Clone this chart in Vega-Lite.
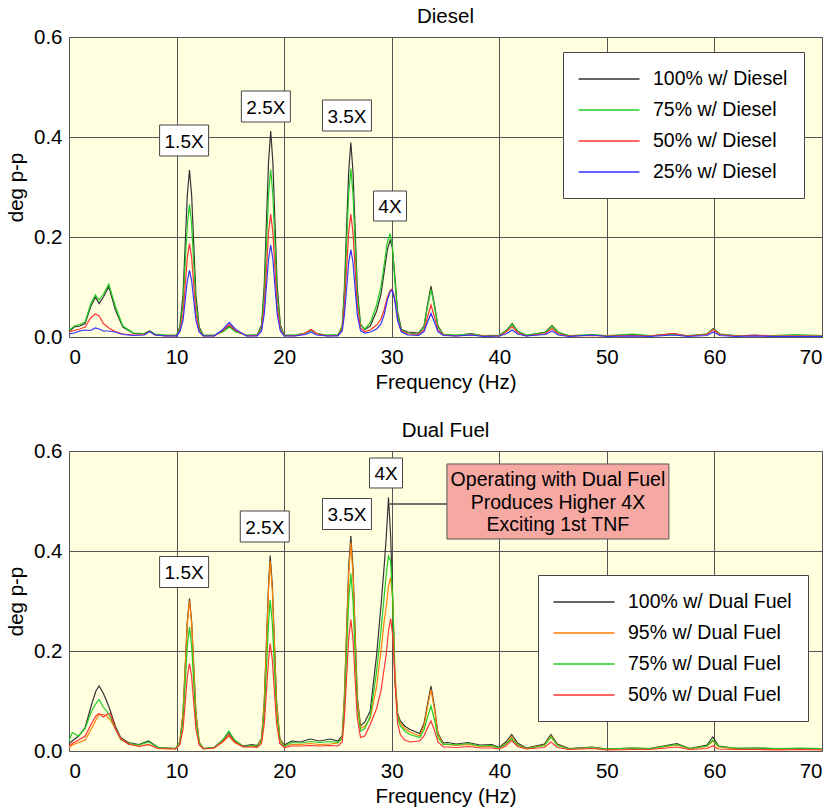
{
  "$schema": "https://vega.github.io/schema/vega-lite/v6.json",
  "background": "white",
  "padding": {"left": 6, "top": 6, "right": 5, "bottom": 3},
  "datasets": {
    "top": [
      {"f":0,"100% w/ Diesel":0.011,"75% w/ Diesel":0.013,"50% w/ Diesel":0.010,"25% w/ Diesel":0.006},
      {"f":0.5,"100% w/ Diesel":0.020,"75% w/ Diesel":0.022,"50% w/ Diesel":0.013,"25% w/ Diesel":0.008},
      {"f":1,"100% w/ Diesel":0.022,"75% w/ Diesel":0.025,"50% w/ Diesel":0.016,"25% w/ Diesel":0.012},
      {"f":1.5,"100% w/ Diesel":0.027,"75% w/ Diesel":0.030,"50% w/ Diesel":0.020,"25% w/ Diesel":0.014},
      {"f":2,"100% w/ Diesel":0.060,"75% w/ Diesel":0.065,"50% w/ Diesel":0.038,"25% w/ Diesel":0.013},
      {"f":2.45,"100% w/ Diesel":0.080,"75% w/ Diesel":0.084,"50% w/ Diesel":0.046,"25% w/ Diesel":0.018},
      {"f":2.8,"100% w/ Diesel":0.067,"75% w/ Diesel":0.074,"50% w/ Diesel":0.042,"25% w/ Diesel":0.016},
      {"f":3.2,"100% w/ Diesel":0.080,"75% w/ Diesel":0.086,"50% w/ Diesel":0.027,"25% w/ Diesel":0.012},
      {"f":3.7,"100% w/ Diesel":0.101,"75% w/ Diesel":0.106,"50% w/ Diesel":0.018,"25% w/ Diesel":0.012},
      {"f":4.3,"100% w/ Diesel":0.055,"75% w/ Diesel":0.062,"50% w/ Diesel":0.011,"25% w/ Diesel":0.010},
      {"f":5,"100% w/ Diesel":0.020,"75% w/ Diesel":0.022,"50% w/ Diesel":0.006,"25% w/ Diesel":0.005},
      {"f":6,"100% w/ Diesel":0.007,"75% w/ Diesel":0.008,"50% w/ Diesel":0.004,"25% w/ Diesel":0.003},
      {"f":7,"100% w/ Diesel":0.007,"75% w/ Diesel":0.007,"50% w/ Diesel":0.005,"25% w/ Diesel":0.004},
      {"f":7.5,"100% w/ Diesel":0.012,"75% w/ Diesel":0.012,"50% w/ Diesel":0.011,"25% w/ Diesel":0.011},
      {"f":8,"100% w/ Diesel":0.005,"75% w/ Diesel":0.006,"50% w/ Diesel":0.004,"25% w/ Diesel":0.004},
      {"f":9,"100% w/ Diesel":0.003,"75% w/ Diesel":0.004,"50% w/ Diesel":0.002,"25% w/ Diesel":0.002},
      {"f":10,"100% w/ Diesel":0.003,"75% w/ Diesel":0.004,"50% w/ Diesel":0.002,"25% w/ Diesel":0.002},
      {"f":10.3,"100% w/ Diesel":0.020,"75% w/ Diesel":0.016,"50% w/ Diesel":0.012,"25% w/ Diesel":0.010},
      {"f":10.6,"100% w/ Diesel":0.084,"75% w/ Diesel":0.066,"50% w/ Diesel":0.047,"25% w/ Diesel":0.033},
      {"f":10.8,"100% w/ Diesel":0.184,"75% w/ Diesel":0.146,"50% w/ Diesel":0.103,"25% w/ Diesel":0.073},
      {"f":11.0,"100% w/ Diesel":0.284,"75% w/ Diesel":0.225,"50% w/ Diesel":0.159,"25% w/ Diesel":0.113},
      {"f":11.2,"100% w/ Diesel":0.334,"75% w/ Diesel":0.265,"50% w/ Diesel":0.187,"25% w/ Diesel":0.133},
      {"f":11.4,"100% w/ Diesel":0.284,"75% w/ Diesel":0.225,"50% w/ Diesel":0.159,"25% w/ Diesel":0.113},
      {"f":11.6,"100% w/ Diesel":0.184,"75% w/ Diesel":0.146,"50% w/ Diesel":0.103,"25% w/ Diesel":0.073},
      {"f":11.8,"100% w/ Diesel":0.084,"75% w/ Diesel":0.066,"50% w/ Diesel":0.047,"25% w/ Diesel":0.033},
      {"f":12.1,"100% w/ Diesel":0.020,"75% w/ Diesel":0.016,"50% w/ Diesel":0.012,"25% w/ Diesel":0.010},
      {"f":12.5,"100% w/ Diesel":0.003,"75% w/ Diesel":0.004,"50% w/ Diesel":0.002,"25% w/ Diesel":0.002},
      {"f":13.5,"100% w/ Diesel":0.003,"75% w/ Diesel":0.004,"50% w/ Diesel":0.002,"25% w/ Diesel":0.002},
      {"f":14.3,"100% w/ Diesel":0.012,"75% w/ Diesel":0.010,"50% w/ Diesel":0.013,"25% w/ Diesel":0.015},
      {"f":14.9,"100% w/ Diesel":0.022,"75% w/ Diesel":0.020,"50% w/ Diesel":0.025,"25% w/ Diesel":0.029},
      {"f":15.5,"100% w/ Diesel":0.012,"75% w/ Diesel":0.010,"50% w/ Diesel":0.013,"25% w/ Diesel":0.015},
      {"f":16.5,"100% w/ Diesel":0.003,"75% w/ Diesel":0.004,"50% w/ Diesel":0.002,"25% w/ Diesel":0.002},
      {"f":17.5,"100% w/ Diesel":0.004,"75% w/ Diesel":0.004,"50% w/ Diesel":0.003,"25% w/ Diesel":0.002},
      {"f":17.9,"100% w/ Diesel":0.024,"75% w/ Diesel":0.020,"50% w/ Diesel":0.015,"25% w/ Diesel":0.012},
      {"f":18.15,"100% w/ Diesel":0.103,"75% w/ Diesel":0.084,"50% w/ Diesel":0.062,"25% w/ Diesel":0.046},
      {"f":18.35,"100% w/ Diesel":0.227,"75% w/ Diesel":0.184,"50% w/ Diesel":0.135,"25% w/ Diesel":0.101},
      {"f":18.55,"100% w/ Diesel":0.350,"75% w/ Diesel":0.285,"50% w/ Diesel":0.209,"25% w/ Diesel":0.156},
      {"f":18.75,"100% w/ Diesel":0.412,"75% w/ Diesel":0.335,"50% w/ Diesel":0.246,"25% w/ Diesel":0.184},
      {"f":18.95,"100% w/ Diesel":0.350,"75% w/ Diesel":0.285,"50% w/ Diesel":0.209,"25% w/ Diesel":0.156},
      {"f":19.15,"100% w/ Diesel":0.227,"75% w/ Diesel":0.184,"50% w/ Diesel":0.135,"25% w/ Diesel":0.101},
      {"f":19.35,"100% w/ Diesel":0.103,"75% w/ Diesel":0.084,"50% w/ Diesel":0.062,"25% w/ Diesel":0.046},
      {"f":19.65,"100% w/ Diesel":0.024,"75% w/ Diesel":0.020,"50% w/ Diesel":0.015,"25% w/ Diesel":0.012},
      {"f":20,"100% w/ Diesel":0.004,"75% w/ Diesel":0.004,"50% w/ Diesel":0.003,"25% w/ Diesel":0.002},
      {"f":21,"100% w/ Diesel":0.003,"75% w/ Diesel":0.004,"50% w/ Diesel":0.002,"25% w/ Diesel":0.002},
      {"f":22,"100% w/ Diesel":0.008,"75% w/ Diesel":0.008,"50% w/ Diesel":0.008,"25% w/ Diesel":0.005},
      {"f":22.5,"100% w/ Diesel":0.015,"75% w/ Diesel":0.013,"50% w/ Diesel":0.015,"25% w/ Diesel":0.010},
      {"f":23,"100% w/ Diesel":0.007,"75% w/ Diesel":0.007,"50% w/ Diesel":0.007,"25% w/ Diesel":0.004},
      {"f":24,"100% w/ Diesel":0.003,"75% w/ Diesel":0.004,"50% w/ Diesel":0.002,"25% w/ Diesel":0.002},
      {"f":25,"100% w/ Diesel":0.004,"75% w/ Diesel":0.005,"50% w/ Diesel":0.003,"25% w/ Diesel":0.002},
      {"f":25.4,"100% w/ Diesel":0.022,"75% w/ Diesel":0.020,"50% w/ Diesel":0.016,"25% w/ Diesel":0.012},
      {"f":25.6,"100% w/ Diesel":0.097,"75% w/ Diesel":0.084,"50% w/ Diesel":0.062,"25% w/ Diesel":0.044},
      {"f":25.8,"100% w/ Diesel":0.214,"75% w/ Diesel":0.185,"50% w/ Diesel":0.135,"25% w/ Diesel":0.096},
      {"f":26.0,"100% w/ Diesel":0.331,"75% w/ Diesel":0.286,"50% w/ Diesel":0.209,"25% w/ Diesel":0.149},
      {"f":26.2,"100% w/ Diesel":0.389,"75% w/ Diesel":0.337,"50% w/ Diesel":0.246,"25% w/ Diesel":0.175},
      {"f":26.4,"100% w/ Diesel":0.331,"75% w/ Diesel":0.286,"50% w/ Diesel":0.209,"25% w/ Diesel":0.149},
      {"f":26.6,"100% w/ Diesel":0.214,"75% w/ Diesel":0.185,"50% w/ Diesel":0.135,"25% w/ Diesel":0.096},
      {"f":26.8,"100% w/ Diesel":0.097,"75% w/ Diesel":0.084,"50% w/ Diesel":0.062,"25% w/ Diesel":0.044},
      {"f":27.1,"100% w/ Diesel":0.025,"75% w/ Diesel":0.024,"50% w/ Diesel":0.018,"25% w/ Diesel":0.013},
      {"f":27.5,"100% w/ Diesel":0.015,"75% w/ Diesel":0.016,"50% w/ Diesel":0.011,"25% w/ Diesel":0.008},
      {"f":28.0,"100% w/ Diesel":0.022,"75% w/ Diesel":0.028,"50% w/ Diesel":0.014,"25% w/ Diesel":0.010},
      {"f":28.6,"100% w/ Diesel":0.052,"75% w/ Diesel":0.064,"50% w/ Diesel":0.024,"25% w/ Diesel":0.016},
      {"f":29.0,"100% w/ Diesel":0.085,"75% w/ Diesel":0.100,"50% w/ Diesel":0.036,"25% w/ Diesel":0.026},
      {"f":29.3,"100% w/ Diesel":0.130,"75% w/ Diesel":0.145,"50% w/ Diesel":0.055,"25% w/ Diesel":0.045},
      {"f":29.6,"100% w/ Diesel":0.175,"75% w/ Diesel":0.190,"50% w/ Diesel":0.080,"25% w/ Diesel":0.075},
      {"f":29.85,"100% w/ Diesel":0.194,"75% w/ Diesel":0.207,"50% w/ Diesel":0.093,"25% w/ Diesel":0.090},
      {"f":30.05,"100% w/ Diesel":0.180,"75% w/ Diesel":0.185,"50% w/ Diesel":0.096,"25% w/ Diesel":0.094},
      {"f":30.3,"100% w/ Diesel":0.120,"75% w/ Diesel":0.110,"50% w/ Diesel":0.075,"25% w/ Diesel":0.072},
      {"f":30.55,"100% w/ Diesel":0.050,"75% w/ Diesel":0.045,"50% w/ Diesel":0.035,"25% w/ Diesel":0.033},
      {"f":30.9,"100% w/ Diesel":0.015,"75% w/ Diesel":0.013,"50% w/ Diesel":0.012,"25% w/ Diesel":0.010},
      {"f":31.5,"100% w/ Diesel":0.010,"75% w/ Diesel":0.008,"50% w/ Diesel":0.006,"25% w/ Diesel":0.004},
      {"f":32.5,"100% w/ Diesel":0.008,"75% w/ Diesel":0.006,"50% w/ Diesel":0.005,"25% w/ Diesel":0.003},
      {"f":33.0,"100% w/ Diesel":0.022,"75% w/ Diesel":0.020,"50% w/ Diesel":0.014,"25% w/ Diesel":0.011},
      {"f":33.3,"100% w/ Diesel":0.061,"75% w/ Diesel":0.057,"50% w/ Diesel":0.038,"25% w/ Diesel":0.028},
      {"f":33.65,"100% w/ Diesel":0.102,"75% w/ Diesel":0.095,"50% w/ Diesel":0.064,"25% w/ Diesel":0.047},
      {"f":34.0,"100% w/ Diesel":0.061,"75% w/ Diesel":0.057,"50% w/ Diesel":0.038,"25% w/ Diesel":0.028},
      {"f":34.3,"100% w/ Diesel":0.022,"75% w/ Diesel":0.020,"50% w/ Diesel":0.014,"25% w/ Diesel":0.011},
      {"f":34.8,"100% w/ Diesel":0.005,"75% w/ Diesel":0.005,"50% w/ Diesel":0.004,"25% w/ Diesel":0.003},
      {"f":36,"100% w/ Diesel":0.003,"75% w/ Diesel":0.004,"50% w/ Diesel":0.002,"25% w/ Diesel":0.002},
      {"f":37.4,"100% w/ Diesel":0.007,"75% w/ Diesel":0.006,"50% w/ Diesel":0.004,"25% w/ Diesel":0.004},
      {"f":38.5,"100% w/ Diesel":0.002,"75% w/ Diesel":0.003,"50% w/ Diesel":0.002,"25% w/ Diesel":0.001},
      {"f":40,"100% w/ Diesel":0.003,"75% w/ Diesel":0.004,"50% w/ Diesel":0.002,"25% w/ Diesel":0.002},
      {"f":40.7,"100% w/ Diesel":0.014,"75% w/ Diesel":0.013,"50% w/ Diesel":0.011,"25% w/ Diesel":0.007},
      {"f":41.2,"100% w/ Diesel":0.027,"75% w/ Diesel":0.025,"50% w/ Diesel":0.021,"25% w/ Diesel":0.014},
      {"f":41.7,"100% w/ Diesel":0.012,"75% w/ Diesel":0.012,"50% w/ Diesel":0.009,"25% w/ Diesel":0.006},
      {"f":42.5,"100% w/ Diesel":0.003,"75% w/ Diesel":0.004,"50% w/ Diesel":0.002,"25% w/ Diesel":0.002},
      {"f":44.3,"100% w/ Diesel":0.010,"75% w/ Diesel":0.009,"50% w/ Diesel":0.007,"25% w/ Diesel":0.005},
      {"f":44.9,"100% w/ Diesel":0.023,"75% w/ Diesel":0.021,"50% w/ Diesel":0.017,"25% w/ Diesel":0.012},
      {"f":45.5,"100% w/ Diesel":0.009,"75% w/ Diesel":0.009,"50% w/ Diesel":0.006,"25% w/ Diesel":0.004},
      {"f":46.5,"100% w/ Diesel":0.002,"75% w/ Diesel":0.003,"50% w/ Diesel":0.002,"25% w/ Diesel":0.001},
      {"f":48.6,"100% w/ Diesel":0.004,"75% w/ Diesel":0.005,"50% w/ Diesel":0.003,"25% w/ Diesel":0.004},
      {"f":50,"100% w/ Diesel":0.002,"75% w/ Diesel":0.003,"50% w/ Diesel":0.002,"25% w/ Diesel":0.001},
      {"f":52.4,"100% w/ Diesel":0.005,"75% w/ Diesel":0.006,"50% w/ Diesel":0.003,"25% w/ Diesel":0.002},
      {"f":54,"100% w/ Diesel":0.002,"75% w/ Diesel":0.003,"50% w/ Diesel":0.002,"25% w/ Diesel":0.001},
      {"f":56.2,"100% w/ Diesel":0.007,"75% w/ Diesel":0.005,"50% w/ Diesel":0.007,"25% w/ Diesel":0.004},
      {"f":57.5,"100% w/ Diesel":0.002,"75% w/ Diesel":0.003,"50% w/ Diesel":0.002,"25% w/ Diesel":0.001},
      {"f":59.3,"100% w/ Diesel":0.006,"75% w/ Diesel":0.006,"50% w/ Diesel":0.005,"25% w/ Diesel":0.003},
      {"f":59.9,"100% w/ Diesel":0.017,"75% w/ Diesel":0.016,"50% w/ Diesel":0.015,"25% w/ Diesel":0.010},
      {"f":60.5,"100% w/ Diesel":0.006,"75% w/ Diesel":0.006,"50% w/ Diesel":0.005,"25% w/ Diesel":0.003},
      {"f":62,"100% w/ Diesel":0.002,"75% w/ Diesel":0.003,"50% w/ Diesel":0.002,"25% w/ Diesel":0.001},
      {"f":63.7,"100% w/ Diesel":0.004,"75% w/ Diesel":0.003,"50% w/ Diesel":0.003,"25% w/ Diesel":0.002},
      {"f":65.5,"100% w/ Diesel":0.002,"75% w/ Diesel":0.003,"50% w/ Diesel":0.002,"25% w/ Diesel":0.001},
      {"f":67.5,"100% w/ Diesel":0.002,"75% w/ Diesel":0.005,"50% w/ Diesel":0.002,"25% w/ Diesel":0.001},
      {"f":70,"100% w/ Diesel":0.002,"75% w/ Diesel":0.003,"50% w/ Diesel":0.002,"25% w/ Diesel":0.001}
    ],
    "bot": [
      {"f":0,"100% w/ Dual Fuel":0.015,"95% w/ Dual Fuel":0.007,"75% w/ Dual Fuel":0.020,"50% w/ Dual Fuel":0.010},
      {"f":0.3,"100% w/ Dual Fuel":0.020,"95% w/ Dual Fuel":0.012,"75% w/ Dual Fuel":0.037,"50% w/ Dual Fuel":0.015},
      {"f":0.9,"100% w/ Dual Fuel":0.030,"95% w/ Dual Fuel":0.017,"75% w/ Dual Fuel":0.030,"50% w/ Dual Fuel":0.022},
      {"f":1.5,"100% w/ Dual Fuel":0.047,"95% w/ Dual Fuel":0.022,"75% w/ Dual Fuel":0.045,"50% w/ Dual Fuel":0.030},
      {"f":2.1,"100% w/ Dual Fuel":0.093,"95% w/ Dual Fuel":0.045,"75% w/ Dual Fuel":0.080,"50% w/ Dual Fuel":0.055},
      {"f":2.5,"100% w/ Dual Fuel":0.120,"95% w/ Dual Fuel":0.062,"75% w/ Dual Fuel":0.095,"50% w/ Dual Fuel":0.070},
      {"f":2.8,"100% w/ Dual Fuel":0.130,"95% w/ Dual Fuel":0.073,"75% w/ Dual Fuel":0.103,"50% w/ Dual Fuel":0.075},
      {"f":3.2,"100% w/ Dual Fuel":0.115,"95% w/ Dual Fuel":0.073,"75% w/ Dual Fuel":0.087,"50% w/ Dual Fuel":0.068},
      {"f":3.5,"100% w/ Dual Fuel":0.100,"95% w/ Dual Fuel":0.070,"75% w/ Dual Fuel":0.080,"50% w/ Dual Fuel":0.073},
      {"f":3.85,"100% w/ Dual Fuel":0.080,"95% w/ Dual Fuel":0.062,"75% w/ Dual Fuel":0.068,"50% w/ Dual Fuel":0.075},
      {"f":4.3,"100% w/ Dual Fuel":0.050,"95% w/ Dual Fuel":0.045,"75% w/ Dual Fuel":0.045,"50% w/ Dual Fuel":0.045},
      {"f":4.8,"100% w/ Dual Fuel":0.027,"95% w/ Dual Fuel":0.025,"75% w/ Dual Fuel":0.023,"50% w/ Dual Fuel":0.025},
      {"f":5.5,"100% w/ Dual Fuel":0.017,"95% w/ Dual Fuel":0.014,"75% w/ Dual Fuel":0.015,"50% w/ Dual Fuel":0.014},
      {"f":6.5,"100% w/ Dual Fuel":0.013,"95% w/ Dual Fuel":0.010,"75% w/ Dual Fuel":0.012,"50% w/ Dual Fuel":0.009},
      {"f":7.4,"100% w/ Dual Fuel":0.020,"95% w/ Dual Fuel":0.013,"75% w/ Dual Fuel":0.018,"50% w/ Dual Fuel":0.013},
      {"f":8.3,"100% w/ Dual Fuel":0.007,"95% w/ Dual Fuel":0.005,"75% w/ Dual Fuel":0.007,"50% w/ Dual Fuel":0.005},
      {"f":9.9,"100% w/ Dual Fuel":0.005,"95% w/ Dual Fuel":0.004,"75% w/ Dual Fuel":0.005,"50% w/ Dual Fuel":0.004},
      {"f":10.3,"100% w/ Dual Fuel":0.018,"95% w/ Dual Fuel":0.018,"75% w/ Dual Fuel":0.016,"50% w/ Dual Fuel":0.012},
      {"f":10.6,"100% w/ Dual Fuel":0.076,"95% w/ Dual Fuel":0.075,"75% w/ Dual Fuel":0.062,"50% w/ Dual Fuel":0.044},
      {"f":10.8,"100% w/ Dual Fuel":0.168,"95% w/ Dual Fuel":0.165,"75% w/ Dual Fuel":0.136,"50% w/ Dual Fuel":0.096},
      {"f":11.0,"100% w/ Dual Fuel":0.259,"95% w/ Dual Fuel":0.255,"75% w/ Dual Fuel":0.211,"50% w/ Dual Fuel":0.149},
      {"f":11.2,"100% w/ Dual Fuel":0.305,"95% w/ Dual Fuel":0.300,"75% w/ Dual Fuel":0.248,"50% w/ Dual Fuel":0.175},
      {"f":11.4,"100% w/ Dual Fuel":0.259,"95% w/ Dual Fuel":0.255,"75% w/ Dual Fuel":0.211,"50% w/ Dual Fuel":0.149},
      {"f":11.6,"100% w/ Dual Fuel":0.168,"95% w/ Dual Fuel":0.165,"75% w/ Dual Fuel":0.136,"50% w/ Dual Fuel":0.096},
      {"f":11.8,"100% w/ Dual Fuel":0.076,"95% w/ Dual Fuel":0.075,"75% w/ Dual Fuel":0.062,"50% w/ Dual Fuel":0.044},
      {"f":12.1,"100% w/ Dual Fuel":0.018,"95% w/ Dual Fuel":0.018,"75% w/ Dual Fuel":0.016,"50% w/ Dual Fuel":0.012},
      {"f":12.5,"100% w/ Dual Fuel":0.005,"95% w/ Dual Fuel":0.005,"75% w/ Dual Fuel":0.005,"50% w/ Dual Fuel":0.004},
      {"f":13.5,"100% w/ Dual Fuel":0.007,"95% w/ Dual Fuel":0.006,"75% w/ Dual Fuel":0.007,"50% w/ Dual Fuel":0.006},
      {"f":14.3,"100% w/ Dual Fuel":0.022,"95% w/ Dual Fuel":0.018,"75% w/ Dual Fuel":0.022,"50% w/ Dual Fuel":0.019},
      {"f":14.85,"100% w/ Dual Fuel":0.037,"95% w/ Dual Fuel":0.030,"75% w/ Dual Fuel":0.040,"50% w/ Dual Fuel":0.032},
      {"f":15.4,"100% w/ Dual Fuel":0.020,"95% w/ Dual Fuel":0.017,"75% w/ Dual Fuel":0.022,"50% w/ Dual Fuel":0.018},
      {"f":16.2,"100% w/ Dual Fuel":0.010,"95% w/ Dual Fuel":0.008,"75% w/ Dual Fuel":0.009,"50% w/ Dual Fuel":0.008},
      {"f":17.0,"100% w/ Dual Fuel":0.013,"95% w/ Dual Fuel":0.010,"75% w/ Dual Fuel":0.011,"50% w/ Dual Fuel":0.008},
      {"f":17.5,"100% w/ Dual Fuel":0.011,"95% w/ Dual Fuel":0.009,"75% w/ Dual Fuel":0.009,"50% w/ Dual Fuel":0.007},
      {"f":17.9,"100% w/ Dual Fuel":0.025,"95% w/ Dual Fuel":0.024,"75% w/ Dual Fuel":0.020,"50% w/ Dual Fuel":0.015},
      {"f":18.15,"100% w/ Dual Fuel":0.098,"95% w/ Dual Fuel":0.095,"75% w/ Dual Fuel":0.076,"50% w/ Dual Fuel":0.054},
      {"f":18.35,"100% w/ Dual Fuel":0.215,"95% w/ Dual Fuel":0.209,"75% w/ Dual Fuel":0.166,"50% w/ Dual Fuel":0.118},
      {"f":18.55,"100% w/ Dual Fuel":0.332,"95% w/ Dual Fuel":0.323,"75% w/ Dual Fuel":0.257,"50% w/ Dual Fuel":0.183},
      {"f":18.7,"100% w/ Dual Fuel":0.391,"95% w/ Dual Fuel":0.380,"75% w/ Dual Fuel":0.302,"50% w/ Dual Fuel":0.215},
      {"f":18.9,"100% w/ Dual Fuel":0.332,"95% w/ Dual Fuel":0.323,"75% w/ Dual Fuel":0.257,"50% w/ Dual Fuel":0.183},
      {"f":19.1,"100% w/ Dual Fuel":0.215,"95% w/ Dual Fuel":0.209,"75% w/ Dual Fuel":0.166,"50% w/ Dual Fuel":0.118},
      {"f":19.3,"100% w/ Dual Fuel":0.098,"95% w/ Dual Fuel":0.095,"75% w/ Dual Fuel":0.076,"50% w/ Dual Fuel":0.054},
      {"f":19.6,"100% w/ Dual Fuel":0.025,"95% w/ Dual Fuel":0.024,"75% w/ Dual Fuel":0.020,"50% w/ Dual Fuel":0.015},
      {"f":20,"100% w/ Dual Fuel":0.012,"95% w/ Dual Fuel":0.010,"75% w/ Dual Fuel":0.009,"50% w/ Dual Fuel":0.007},
      {"f":20.7,"100% w/ Dual Fuel":0.020,"95% w/ Dual Fuel":0.013,"75% w/ Dual Fuel":0.017,"50% w/ Dual Fuel":0.010},
      {"f":21.5,"100% w/ Dual Fuel":0.018,"95% w/ Dual Fuel":0.013,"75% w/ Dual Fuel":0.016,"50% w/ Dual Fuel":0.010},
      {"f":22.4,"100% w/ Dual Fuel":0.024,"95% w/ Dual Fuel":0.015,"75% w/ Dual Fuel":0.019,"50% w/ Dual Fuel":0.011},
      {"f":23.3,"100% w/ Dual Fuel":0.020,"95% w/ Dual Fuel":0.013,"75% w/ Dual Fuel":0.017,"50% w/ Dual Fuel":0.010},
      {"f":24.3,"100% w/ Dual Fuel":0.024,"95% w/ Dual Fuel":0.014,"75% w/ Dual Fuel":0.019,"50% w/ Dual Fuel":0.011},
      {"f":25.0,"100% w/ Dual Fuel":0.020,"95% w/ Dual Fuel":0.016,"75% w/ Dual Fuel":0.017,"50% w/ Dual Fuel":0.010},
      {"f":25.4,"100% w/ Dual Fuel":0.030,"95% w/ Dual Fuel":0.028,"75% w/ Dual Fuel":0.025,"50% w/ Dual Fuel":0.018},
      {"f":25.6,"100% w/ Dual Fuel":0.108,"95% w/ Dual Fuel":0.104,"75% w/ Dual Fuel":0.089,"50% w/ Dual Fuel":0.066},
      {"f":25.8,"100% w/ Dual Fuel":0.237,"95% w/ Dual Fuel":0.229,"75% w/ Dual Fuel":0.195,"50% w/ Dual Fuel":0.145},
      {"f":26.0,"100% w/ Dual Fuel":0.366,"95% w/ Dual Fuel":0.354,"75% w/ Dual Fuel":0.302,"50% w/ Dual Fuel":0.224},
      {"f":26.2,"100% w/ Dual Fuel":0.430,"95% w/ Dual Fuel":0.417,"75% w/ Dual Fuel":0.355,"50% w/ Dual Fuel":0.263},
      {"f":26.4,"100% w/ Dual Fuel":0.366,"95% w/ Dual Fuel":0.354,"75% w/ Dual Fuel":0.302,"50% w/ Dual Fuel":0.224},
      {"f":26.6,"100% w/ Dual Fuel":0.237,"95% w/ Dual Fuel":0.229,"75% w/ Dual Fuel":0.195,"50% w/ Dual Fuel":0.145},
      {"f":26.8,"100% w/ Dual Fuel":0.108,"95% w/ Dual Fuel":0.104,"75% w/ Dual Fuel":0.089,"50% w/ Dual Fuel":0.066},
      {"f":27.1,"100% w/ Dual Fuel":0.050,"95% w/ Dual Fuel":0.045,"75% w/ Dual Fuel":0.040,"50% w/ Dual Fuel":0.027},
      {"f":27.5,"100% w/ Dual Fuel":0.058,"95% w/ Dual Fuel":0.050,"75% w/ Dual Fuel":0.045,"50% w/ Dual Fuel":0.030},
      {"f":28.0,"100% w/ Dual Fuel":0.080,"95% w/ Dual Fuel":0.065,"75% w/ Dual Fuel":0.070,"50% w/ Dual Fuel":0.053},
      {"f":28.6,"100% w/ Dual Fuel":0.193,"95% w/ Dual Fuel":0.130,"75% w/ Dual Fuel":0.160,"50% w/ Dual Fuel":0.085},
      {"f":29.0,"100% w/ Dual Fuel":0.290,"95% w/ Dual Fuel":0.200,"75% w/ Dual Fuel":0.240,"50% w/ Dual Fuel":0.120},
      {"f":29.3,"100% w/ Dual Fuel":0.370,"95% w/ Dual Fuel":0.260,"75% w/ Dual Fuel":0.310,"50% w/ Dual Fuel":0.165},
      {"f":29.5,"100% w/ Dual Fuel":0.430,"95% w/ Dual Fuel":0.290,"75% w/ Dual Fuel":0.355,"50% w/ Dual Fuel":0.195},
      {"f":29.7,"100% w/ Dual Fuel":0.507,"95% w/ Dual Fuel":0.330,"75% w/ Dual Fuel":0.390,"50% w/ Dual Fuel":0.240},
      {"f":29.9,"100% w/ Dual Fuel":0.430,"95% w/ Dual Fuel":0.347,"75% w/ Dual Fuel":0.380,"50% w/ Dual Fuel":0.265},
      {"f":30.1,"100% w/ Dual Fuel":0.300,"95% w/ Dual Fuel":0.300,"75% w/ Dual Fuel":0.300,"50% w/ Dual Fuel":0.230},
      {"f":30.3,"100% w/ Dual Fuel":0.140,"95% w/ Dual Fuel":0.160,"75% w/ Dual Fuel":0.140,"50% w/ Dual Fuel":0.140},
      {"f":30.55,"100% w/ Dual Fuel":0.075,"95% w/ Dual Fuel":0.072,"75% w/ Dual Fuel":0.068,"50% w/ Dual Fuel":0.055},
      {"f":30.8,"100% w/ Dual Fuel":0.060,"95% w/ Dual Fuel":0.055,"75% w/ Dual Fuel":0.050,"50% w/ Dual Fuel":0.033},
      {"f":31.2,"100% w/ Dual Fuel":0.050,"95% w/ Dual Fuel":0.045,"75% w/ Dual Fuel":0.040,"50% w/ Dual Fuel":0.022},
      {"f":31.7,"100% w/ Dual Fuel":0.043,"95% w/ Dual Fuel":0.038,"75% w/ Dual Fuel":0.033,"50% w/ Dual Fuel":0.018},
      {"f":32.6,"100% w/ Dual Fuel":0.035,"95% w/ Dual Fuel":0.030,"75% w/ Dual Fuel":0.027,"50% w/ Dual Fuel":0.020},
      {"f":33.0,"100% w/ Dual Fuel":0.055,"95% w/ Dual Fuel":0.050,"75% w/ Dual Fuel":0.042,"50% w/ Dual Fuel":0.030},
      {"f":33.3,"100% w/ Dual Fuel":0.090,"95% w/ Dual Fuel":0.085,"75% w/ Dual Fuel":0.066,"50% w/ Dual Fuel":0.045},
      {"f":33.65,"100% w/ Dual Fuel":0.130,"95% w/ Dual Fuel":0.123,"75% w/ Dual Fuel":0.090,"50% w/ Dual Fuel":0.060},
      {"f":34.0,"100% w/ Dual Fuel":0.085,"95% w/ Dual Fuel":0.080,"75% w/ Dual Fuel":0.060,"50% w/ Dual Fuel":0.040},
      {"f":34.3,"100% w/ Dual Fuel":0.035,"95% w/ Dual Fuel":0.033,"75% w/ Dual Fuel":0.027,"50% w/ Dual Fuel":0.018},
      {"f":34.8,"100% w/ Dual Fuel":0.016,"95% w/ Dual Fuel":0.013,"75% w/ Dual Fuel":0.013,"50% w/ Dual Fuel":0.008},
      {"f":35.2,"100% w/ Dual Fuel":0.017,"95% w/ Dual Fuel":0.013,"75% w/ Dual Fuel":0.014,"50% w/ Dual Fuel":0.008},
      {"f":36.0,"100% w/ Dual Fuel":0.014,"95% w/ Dual Fuel":0.011,"75% w/ Dual Fuel":0.012,"50% w/ Dual Fuel":0.007},
      {"f":37.1,"100% w/ Dual Fuel":0.017,"95% w/ Dual Fuel":0.013,"75% w/ Dual Fuel":0.015,"50% w/ Dual Fuel":0.009},
      {"f":38.2,"100% w/ Dual Fuel":0.012,"95% w/ Dual Fuel":0.009,"75% w/ Dual Fuel":0.010,"50% w/ Dual Fuel":0.006},
      {"f":39.3,"100% w/ Dual Fuel":0.013,"95% w/ Dual Fuel":0.009,"75% w/ Dual Fuel":0.011,"50% w/ Dual Fuel":0.006},
      {"f":40.0,"100% w/ Dual Fuel":0.007,"95% w/ Dual Fuel":0.006,"75% w/ Dual Fuel":0.006,"50% w/ Dual Fuel":0.004},
      {"f":40.6,"100% w/ Dual Fuel":0.018,"95% w/ Dual Fuel":0.015,"75% w/ Dual Fuel":0.014,"50% w/ Dual Fuel":0.010},
      {"f":41.15,"100% w/ Dual Fuel":0.033,"95% w/ Dual Fuel":0.028,"75% w/ Dual Fuel":0.025,"50% w/ Dual Fuel":0.021},
      {"f":41.7,"100% w/ Dual Fuel":0.016,"95% w/ Dual Fuel":0.013,"75% w/ Dual Fuel":0.012,"50% w/ Dual Fuel":0.009},
      {"f":42.5,"100% w/ Dual Fuel":0.006,"95% w/ Dual Fuel":0.005,"75% w/ Dual Fuel":0.005,"50% w/ Dual Fuel":0.004},
      {"f":44.2,"100% w/ Dual Fuel":0.014,"95% w/ Dual Fuel":0.012,"75% w/ Dual Fuel":0.011,"50% w/ Dual Fuel":0.007},
      {"f":44.8,"100% w/ Dual Fuel":0.033,"95% w/ Dual Fuel":0.030,"75% w/ Dual Fuel":0.028,"50% w/ Dual Fuel":0.018},
      {"f":45.4,"100% w/ Dual Fuel":0.014,"95% w/ Dual Fuel":0.012,"75% w/ Dual Fuel":0.011,"50% w/ Dual Fuel":0.007},
      {"f":46.5,"100% w/ Dual Fuel":0.005,"95% w/ Dual Fuel":0.004,"75% w/ Dual Fuel":0.004,"50% w/ Dual Fuel":0.003},
      {"f":48.6,"100% w/ Dual Fuel":0.008,"95% w/ Dual Fuel":0.007,"75% w/ Dual Fuel":0.007,"50% w/ Dual Fuel":0.005},
      {"f":50,"100% w/ Dual Fuel":0.004,"95% w/ Dual Fuel":0.003,"75% w/ Dual Fuel":0.004,"50% w/ Dual Fuel":0.002},
      {"f":52.4,"100% w/ Dual Fuel":0.006,"95% w/ Dual Fuel":0.005,"75% w/ Dual Fuel":0.006,"50% w/ Dual Fuel":0.003},
      {"f":54,"100% w/ Dual Fuel":0.005,"95% w/ Dual Fuel":0.004,"75% w/ Dual Fuel":0.005,"50% w/ Dual Fuel":0.003},
      {"f":56.5,"100% w/ Dual Fuel":0.015,"95% w/ Dual Fuel":0.012,"75% w/ Dual Fuel":0.013,"50% w/ Dual Fuel":0.008},
      {"f":57.7,"100% w/ Dual Fuel":0.005,"95% w/ Dual Fuel":0.004,"75% w/ Dual Fuel":0.005,"50% w/ Dual Fuel":0.003},
      {"f":59.3,"100% w/ Dual Fuel":0.012,"95% w/ Dual Fuel":0.009,"75% w/ Dual Fuel":0.010,"50% w/ Dual Fuel":0.005},
      {"f":59.85,"100% w/ Dual Fuel":0.028,"95% w/ Dual Fuel":0.020,"75% w/ Dual Fuel":0.022,"50% w/ Dual Fuel":0.010},
      {"f":60.4,"100% w/ Dual Fuel":0.010,"95% w/ Dual Fuel":0.008,"75% w/ Dual Fuel":0.009,"50% w/ Dual Fuel":0.004},
      {"f":62,"100% w/ Dual Fuel":0.005,"95% w/ Dual Fuel":0.004,"75% w/ Dual Fuel":0.006,"50% w/ Dual Fuel":0.003},
      {"f":64,"100% w/ Dual Fuel":0.006,"95% w/ Dual Fuel":0.004,"75% w/ Dual Fuel":0.006,"50% w/ Dual Fuel":0.003},
      {"f":66,"100% w/ Dual Fuel":0.004,"95% w/ Dual Fuel":0.003,"75% w/ Dual Fuel":0.005,"50% w/ Dual Fuel":0.002},
      {"f":68,"100% w/ Dual Fuel":0.005,"95% w/ Dual Fuel":0.004,"75% w/ Dual Fuel":0.006,"50% w/ Dual Fuel":0.003},
      {"f":70,"100% w/ Dual Fuel":0.004,"95% w/ Dual Fuel":0.003,"75% w/ Dual Fuel":0.005,"50% w/ Dual Fuel":0.002}
    ],
    "topLabels": [
      {"f":10.7,"v":0.393,"label":"1.5X"},
      {"f":18.3,"v":0.461,"label":"2.5X"},
      {"f":25.84,"v":0.443,"label":"3.5X"},
      {"f":29.84,"v":0.262,"label":"4X"}
    ],
    "botLabels": [
      {"f":10.7,"v":0.358,"label":"1.5X"},
      {"f":18.2,"v":0.449,"label":"2.5X"},
      {"f":25.84,"v":0.474,"label":"3.5X"},
      {"f":29.47,"v":0.556,"label":"4X"}
    ],
    "callout": [
      {"f":45.45,"v":0.499,"f0":29.8,"f1":35.15,"vp":0.494,"text":"Operating with Dual Fuel\nProduces Higher 4X\nExciting 1st TNF"}
    ]
  },
  "vconcat": [
    {
      "width": 753,
      "height": 300,
      "title": {"text": "Diesel", "offset": 0},
      "layer": [
        {
          "data": {"name": "top"},
          "transform": [{"fold": ["100% w/ Diesel","75% w/ Diesel","50% w/ Diesel","25% w/ Diesel"], "as": ["series","v"]}],
          "mark": {"type": "line", "strokeWidth": 1.2},
          "encoding": {
            "x": {"field": "f", "type": "quantitative", "scale": {"domain": [0,70], "nice": false, "zero": false}, "axis": {"title": "Frequency (Hz)", "values": [0,10,20,30,40,50,60,70]}},
            "y": {"field": "v", "type": "quantitative", "scale": {"domain": [0,0.6], "nice": false}, "axis": {"title": "deg p-p", "values": [0,0.2,0.4,0.6], "format": ".1f"}},
            "color": {"field": "series", "type": "nominal",
              "scale": {"domain": ["100% w/ Diesel","75% w/ Diesel","50% w/ Diesel","25% w/ Diesel"], "range": ["#333333","#22cc22","#ff3333","#3333ff"]},
              "legend": {"orient": "none", "legendX": 494, "legendY": 15, "title": null}}
          }
        },
        {
          "data": {"name": "topLabels"},
          "mark": {"type": "point", "filled": true, "fill": "white", "stroke": "#444444", "strokeWidth": 1, "opacity": 1, "size": 2401},
          "encoding": {
            "x": {"field": "f", "type": "quantitative"},
            "y": {"field": "v", "type": "quantitative"},
            "shape": {"field": "label", "type": "nominal", "legend": null,
              "scale": {"domain": ["1.5X","2.5X","3.5X","4X"], "range": ["M-1,-0.633H1V0.633H-1Z","M-1,-0.633H1V0.633H-1Z","M-1,-0.633H1V0.633H-1Z","M-0.673,-0.612H0.673V0.612H-0.673Z"]}}
          }
        },
        {
          "data": {"name": "topLabels"},
          "mark": {"type": "text", "fontSize": 19, "font": "Liberation Sans", "color": "black", "baseline": "middle", "align": "center", "dy": 1},
          "encoding": {
            "x": {"field": "f", "type": "quantitative"},
            "y": {"field": "v", "type": "quantitative"},
            "text": {"field": "label"}
          }
        }
      ]
    },
    {
      "width": 753,
      "height": 300,
      "title": {"text": "Dual Fuel", "offset": 0},
      "layer": [
        {
          "data": {"name": "bot"},
          "transform": [{"fold": ["100% w/ Dual Fuel","95% w/ Dual Fuel","75% w/ Dual Fuel","50% w/ Dual Fuel"], "as": ["series","v"]}],
          "mark": {"type": "line", "strokeWidth": 1.2},
          "encoding": {
            "x": {"field": "f", "type": "quantitative", "scale": {"domain": [0,70], "nice": false, "zero": false}, "axis": {"title": "Frequency (Hz)", "values": [0,10,20,30,40,50,60,70]}},
            "y": {"field": "v", "type": "quantitative", "scale": {"domain": [0,0.6], "nice": false}, "axis": {"title": "deg p-p", "values": [0,0.2,0.4,0.6], "format": ".1f"}},
            "color": {"field": "series", "type": "nominal",
              "scale": {"domain": ["100% w/ Dual Fuel","95% w/ Dual Fuel","75% w/ Dual Fuel","50% w/ Dual Fuel"], "range": ["#333333","#ff7f00","#22cc22","#ff3333"]},
              "legend": {"orient": "none", "legendX": 469, "legendY": 124, "title": null}}
          }
        },
        {
          "data": {"name": "callout"},
          "mark": {"type": "rule", "stroke": "#444444", "strokeWidth": 1.5},
          "encoding": {
            "x": {"field": "f0", "type": "quantitative"},
            "x2": {"field": "f1"},
            "y": {"field": "vp", "type": "quantitative"}
          }
        },
        {
          "data": {"name": "callout"},
          "mark": {"type": "point", "filled": true, "fill": "#f6a8a2", "stroke": "#555555", "strokeWidth": 1, "opacity": 1, "size": 49284, "shape": "M-1,-0.338H1V0.338H-1Z"},
          "encoding": {
            "x": {"field": "f", "type": "quantitative"},
            "y": {"field": "v", "type": "quantitative"}
          }
        },
        {
          "data": {"name": "callout"},
          "mark": {"type": "text", "fontSize": 19.5, "font": "Liberation Sans", "color": "black", "baseline": "middle", "align": "center", "lineBreak": "\n", "lineHeight": 22.5, "dy": -21.5},
          "encoding": {
            "x": {"field": "f", "type": "quantitative"},
            "y": {"field": "v", "type": "quantitative"},
            "text": {"field": "text"}
          }
        },
        {
          "data": {"name": "botLabels"},
          "mark": {"type": "point", "filled": true, "fill": "white", "stroke": "#444444", "strokeWidth": 1, "opacity": 1, "size": 2401},
          "encoding": {
            "x": {"field": "f", "type": "quantitative"},
            "y": {"field": "v", "type": "quantitative"},
            "shape": {"field": "label", "type": "nominal", "legend": null,
              "scale": {"domain": ["1.5X","2.5X","3.5X","4X"], "range": ["M-1,-0.633H1V0.633H-1Z","M-1,-0.633H1V0.633H-1Z","M-1,-0.633H1V0.633H-1Z","M-0.673,-0.612H0.673V0.612H-0.673Z"]}}
          }
        },
        {
          "data": {"name": "botLabels"},
          "mark": {"type": "text", "fontSize": 19, "font": "Liberation Sans", "color": "black", "baseline": "middle", "align": "center", "dy": 1},
          "encoding": {
            "x": {"field": "f", "type": "quantitative"},
            "y": {"field": "v", "type": "quantitative"},
            "text": {"field": "label"}
          }
        }
      ]
    }
  ],
  "spacing": 26,
  "resolve": {"scale": {"color": "independent", "x": "independent", "y": "independent", "shape": "independent"}, "legend": {"color": "independent"}},
  "config": {
    "view": {"fill": "#ffffe0", "stroke": "#999999", "strokeWidth": 1},
    "font": "Liberation Sans",
    "axis": {"grid": true, "gridColor": "#555555", "gridWidth": 1, "gridOpacity": 1, "domain": false, "ticks": false,
      "labelFont": "Liberation Sans", "labelFontSize": 20.5, "labelColor": "#000000", "labelPadding": 7,
      "titleFont": "Liberation Sans", "titleFontSize": 20.5, "titleFontWeight": "normal", "titleColor": "#000000"},
    "axisX": {"labelPadding": 10, "titlePadding": 5},
    "axisY": {"titlePadding": 7},
    "title": {"font": "Liberation Sans", "fontSize": 20.5, "fontWeight": "normal", "anchor": "middle", "color": "#000000"},
    "legend": {"symbolType": "M-3.05,0H3.05", "symbolSize": 400, "symbolStrokeWidth": 1.3, "symbolOffset": 19, "labelOffset": 33,
      "labelFont": "Liberation Sans", "labelFontSize": 19.5, "labelColor": "#000000", "labelLimit": 400,
      "padding": 16, "rowPadding": 10,
      "fillColor": "#ffffff", "strokeColor": "#444444", "cornerRadius": 0}
  }
}
